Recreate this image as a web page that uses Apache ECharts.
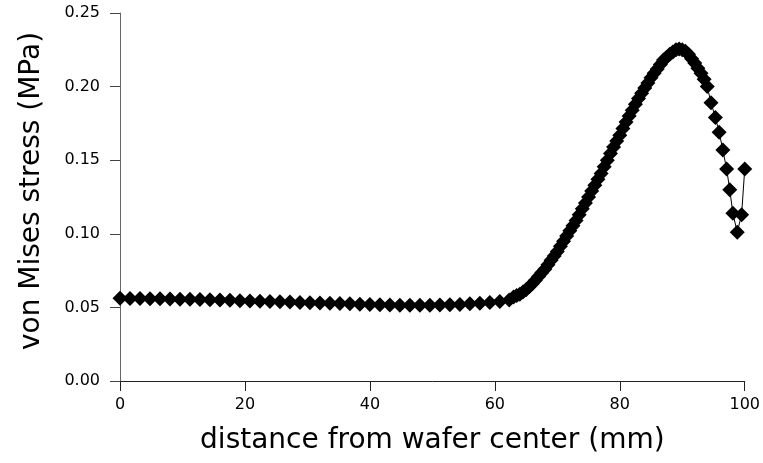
<!DOCTYPE html>
<html>
<head>
<meta charset="utf-8">
<script src="https://cdn.jsdelivr.net/npm/echarts/dist/echarts.min.js"></script>
<style>
    html, body { margin: 0; padding: 0; background: #fff; }
    #chart { width: 763px; height: 463px; }
</style>
</head>
<body>
<div id="chart"></div>
<script>
    // distance from wafer center (mm)
    var distance = [
        0, 1.6, 3.2, 4.8, 6.4, 8, 9.6, 11.2, 12.8, 14.4,
        16, 17.6, 19.2, 20.8, 22.4, 24, 25.6, 27.2, 28.8, 30.4,
        32, 33.6, 35.2, 36.8, 38.4, 40, 41.6, 43.2, 44.8, 46.4,
        48, 49.6, 51.2, 52.8, 54.4, 56, 57.6, 59.2, 60.8, 62.3,
        63, 63.5, 64, 64.5, 65, 65.5, 66, 66.5, 67, 67.5,
        68, 68.5, 69, 69.5, 70, 70.5, 71, 71.5, 72, 72.5,
        73, 73.5, 74, 74.5, 75, 75.5, 76, 76.5, 77, 77.5,
        78, 78.5, 79, 79.5, 80, 80.5, 81, 81.5, 82, 82.5,
        83, 83.5, 84, 84.5, 85, 85.5, 86, 86.5, 87, 87.5,
        88, 88.5, 89, 89.5, 90, 90.5, 91, 91.5, 92, 92.5,
        93, 93.5, 94, 94.6, 95.3, 95.9, 96.5, 97.1, 97.6, 98.1,
        98.8, 99.5, 100
    ];
    // von Mises stress (MPa)
    var stress = [
        0.0562, 0.0561, 0.0560, 0.0559, 0.0558, 0.0557, 0.0556, 0.0555, 0.0554, 0.0552,
        0.0550, 0.0548, 0.0546, 0.0544, 0.0542, 0.0540, 0.0538, 0.0536, 0.0534, 0.0532,
        0.0530, 0.0528, 0.0526, 0.0524, 0.0522, 0.0520, 0.0518, 0.0516, 0.0515, 0.0514,
        0.0514, 0.0515, 0.0516, 0.0518, 0.0520, 0.0524, 0.0528, 0.0534, 0.0540, 0.0550,
        0.0570, 0.0580, 0.0590, 0.0605, 0.0620, 0.0640, 0.0660, 0.0685, 0.0710, 0.0735,
        0.0760, 0.0790, 0.0820, 0.0850, 0.0880, 0.0915, 0.0950, 0.0985, 0.1020, 0.1055,
        0.1090, 0.1130, 0.1170, 0.1210, 0.1250, 0.1290, 0.1330, 0.1370, 0.1410, 0.1455,
        0.1500, 0.1545, 0.1590, 0.1630, 0.1670, 0.1715, 0.1760, 0.1800, 0.1840, 0.1880,
        0.1920, 0.1955, 0.1990, 0.2025, 0.2060, 0.2090, 0.2120, 0.2150, 0.2180, 0.2200,
        0.2220, 0.2235, 0.2250, 0.2255, 0.2250, 0.2240, 0.2220, 0.2190, 0.2160, 0.2125,
        0.2090, 0.2050, 0.2000, 0.1890, 0.1790, 0.1690, 0.1570, 0.1440, 0.1300, 0.1140,
        0.1010, 0.1130, 0.1440
    ];
    var xTicks = [0, 20, 40, 60, 80, 100];
    var yTicks = [0, 0.05, 0.10, 0.15, 0.20, 0.25];

    var points = [];
    for (var i = 0; i < distance.length; i++) {
        points.push([distance[i], stress[i]]);
    }

    var font = 'DejaVu Sans';
    var chart = echarts.init(document.getElementById('chart'));
    chart.setOption({
        animation: false,
        grid: { left: 120, right: 14, top: 13, bottom: 82 },
        xAxis: {
            type: 'value',
            min: xTicks[0],
            max: xTicks[xTicks.length - 1],
            interval: 20,
            name: 'distance from wafer center (mm)',
            nameLocation: 'middle',
            nameGap: 46,
            nameTextStyle: { fontFamily: font, fontSize: 28, color: '#000' },
            axisLine: { lineStyle: { color: '#222', width: 1 } },
            axisTick: { inside: false, length: 10, lineStyle: { color: '#222' } },
            axisLabel: { margin: 16, fontFamily: font, fontSize: 16, color: '#000' },
            splitLine: { show: false }
        },
        yAxis: {
            type: 'value',
            min: yTicks[0],
            max: yTicks[yTicks.length - 1],
            interval: 0.05,
            name: 'von Mises stress (MPa)',
            nameLocation: 'middle',
            nameGap: 74,
            nameTextStyle: { fontFamily: font, fontSize: 28, color: '#000', padding: [0, 0, 0, 12] },
            axisLine: { show: true, lineStyle: { color: '#666', width: 1 } },
            axisTick: { show: true, inside: false, length: 10, lineStyle: { color: '#444' } },
            axisLabel: {
                margin: 20,
                fontFamily: font,
                fontSize: 16,
                color: '#000',
                formatter: function (v) { return v.toFixed(2); }
            },
            splitLine: { show: false }
        },
        series: [
            {
                type: 'line',
                data: points,
                symbol: 'diamond',
                symbolSize: 15,
                showAllSymbol: true,
                itemStyle: { color: '#000' },
                lineStyle: { color: '#000', width: 1 }
            }
        ]
    });
</script>
</body>
</html>
